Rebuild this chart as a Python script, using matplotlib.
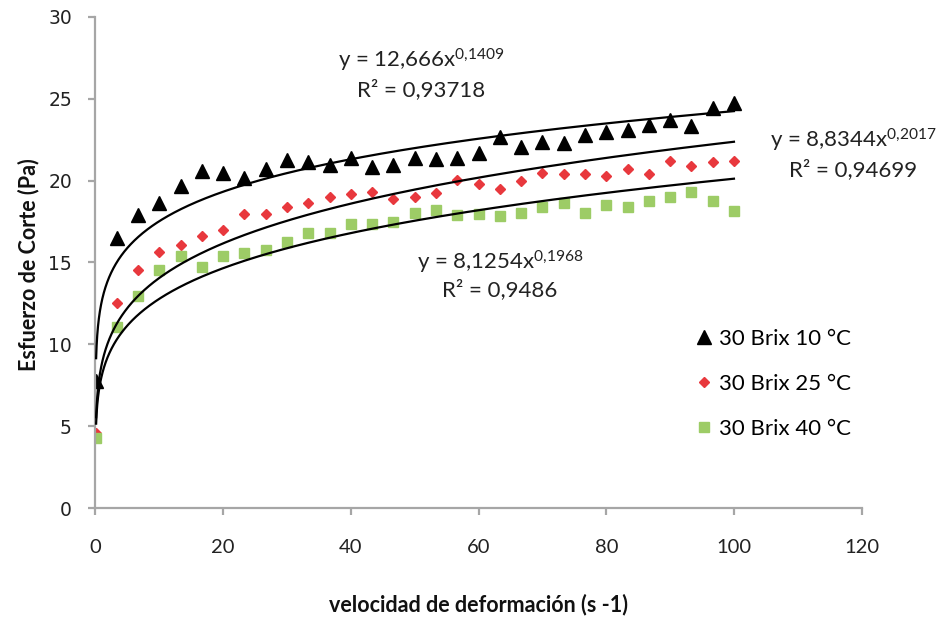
import numpy as np
import matplotlib
matplotlib.use("Agg")
import matplotlib.pyplot as plt

# velocidad de deformación (s-1): 0.1 y luego cada 10/3 hasta 100
velocidad = [0.1] + [round(10 * k / 3, 2) for k in range(1, 31)]

# esfuerzo de corte (Pa) medido para cada temperatura
brix_10 = [7.77, 16.48, 17.89, 18.60, 19.67, 20.61, 20.47, 20.17, 20.71, 21.25,
           21.15, 20.94, 21.35, 20.80, 20.94, 21.35, 21.31, 21.35, 21.66, 22.68,
           22.02, 22.36, 22.26, 22.78, 22.98, 23.08, 23.38, 23.69, 23.32, 24.40,
           24.71]
brix_25 = [4.60, 12.51, 14.54, 15.62, 16.06, 16.62, 16.98, 17.95, 17.95, 18.37,
           18.65, 18.97, 19.15, 19.31, 18.85, 18.97, 19.21, 20.03, 19.77, 19.51,
           19.99, 20.44, 20.37, 20.37, 20.27, 20.68, 20.37, 21.19, 20.88, 21.15,
           21.19]
brix_40 = [4.27, 11.08, 12.95, 14.54, 15.42, 14.70, 15.42, 15.56, 15.76, 16.22,
           16.78, 16.82, 17.34, 17.34, 17.49, 17.99, 18.20, 17.89, 17.93, 17.83,
           18.04, 18.37, 18.61, 18.04, 18.51, 18.37, 18.77, 18.97, 19.31, 18.77,
           18.16]

etiquetas = ["30 Brix 10 °C", "30 Brix 25 °C", "30 Brix 40 °C"]

# ajustes potenciales y = a * x^b
coef_a = [12.666, 8.8344, 8.1254]
coef_b = [0.1409, 0.2017, 0.1968]
r2 = ["0,93718", "0,94699", "0,9486"]

plt.rcParams["mathtext.fontset"] = "custom"
plt.rcParams["mathtext.rm"] = "Lato"
plt.rcParams["mathtext.it"] = "Lato"

fig = plt.figure(figsize=(9.38, 6.19), dpi=100)
ax = fig.add_axes([0.1018, 0.1789, 0.8168, 0.7942])

ax.plot(velocidad, brix_10, linestyle="none", marker="^", markersize=9.5,
        color="black", label=etiquetas[0], zorder=2)
ax.plot(velocidad, brix_25, linestyle="none", marker="D", markersize=5.5,
        color="#e8383d", label=etiquetas[1], zorder=2)
ax.plot(velocidad, brix_40, linestyle="none", marker="s", markersize=7.5,
        color="#9dcc66", label=etiquetas[2], zorder=2)

# líneas de tendencia
xs = np.geomspace(velocidad[0], velocidad[-1], 500)
for a, b in zip(coef_a, coef_b):
    ax.plot(xs, a * xs ** b, color="black", linewidth=1.6, zorder=3)

ax.set_xlim(0, 120)
ax.set_ylim(0, 30)
ax.set_xticks(range(0, 121, 20))
ax.set_yticks(range(0, 31, 5))

for s in ["top", "right"]:
    ax.spines[s].set_visible(False)
for s in ["left", "bottom"]:
    ax.spines[s].set_color("#a6a6a6")
    ax.spines[s].set_linewidth(1.6)
ax.tick_params(axis="both", colors="#a6a6a6", length=5, width=1.6, direction="out")
ax.tick_params(axis="x", pad=17, labelcolor="#222222")
ax.tick_params(axis="y", pad=12, labelcolor="#222222")
for t in ax.get_xticklabels():
    t.set_fontfamily("Lato")
    t.set_fontsize(14.5)
for t in ax.get_yticklabels():
    t.set_fontfamily("DejaVu Sans")
    t.set_fontsize(13.5)

fig.text(0.03, 0.5733, "Esfuerzo de Corte (Pa)", rotation=90, ha="center", va="center",
         fontsize=15.5, fontweight="bold", family="Lato", color="#111111")
fig.text(0.5097, 0.024, "velocidad de deformación (s -1)", ha="center", va="center",
         fontsize=15.5, fontweight="bold", family="Lato", color="#111111")

# ecuaciones de ajuste
pos_ec = [(421, 60, 90), (853, 140, 170), (500, 262, 290)]
for (px, py1, py2), a, b, r in zip(pos_ec, coef_a, coef_b, r2):
    a_txt = f"{a}".replace(".", ",")
    b_txt = f"{b}".replace(".", "{,}")
    fig.text(px / 938, 1 - py1 / 619, f"y = {a_txt}x$^{{{b_txt}}}$",
             ha="center", va="center", fontsize=16, family="Lato", color="#222222")
    fig.text(px / 938, 1 - py2 / 619, f"R² = {r}", ha="center", va="center",
             fontsize=16, family="Lato", color="#222222")

ax.legend(loc="upper left", bbox_to_anchor=(686 / 938, 1 - 318 / 619),
          bbox_transform=fig.transFigure, frameon=False, prop={"family": "Lato", "size": 16},
          handlelength=0.6, handletextpad=0.4, labelspacing=1.12, borderpad=0)

fig.savefig("out.png", dpi=100)
